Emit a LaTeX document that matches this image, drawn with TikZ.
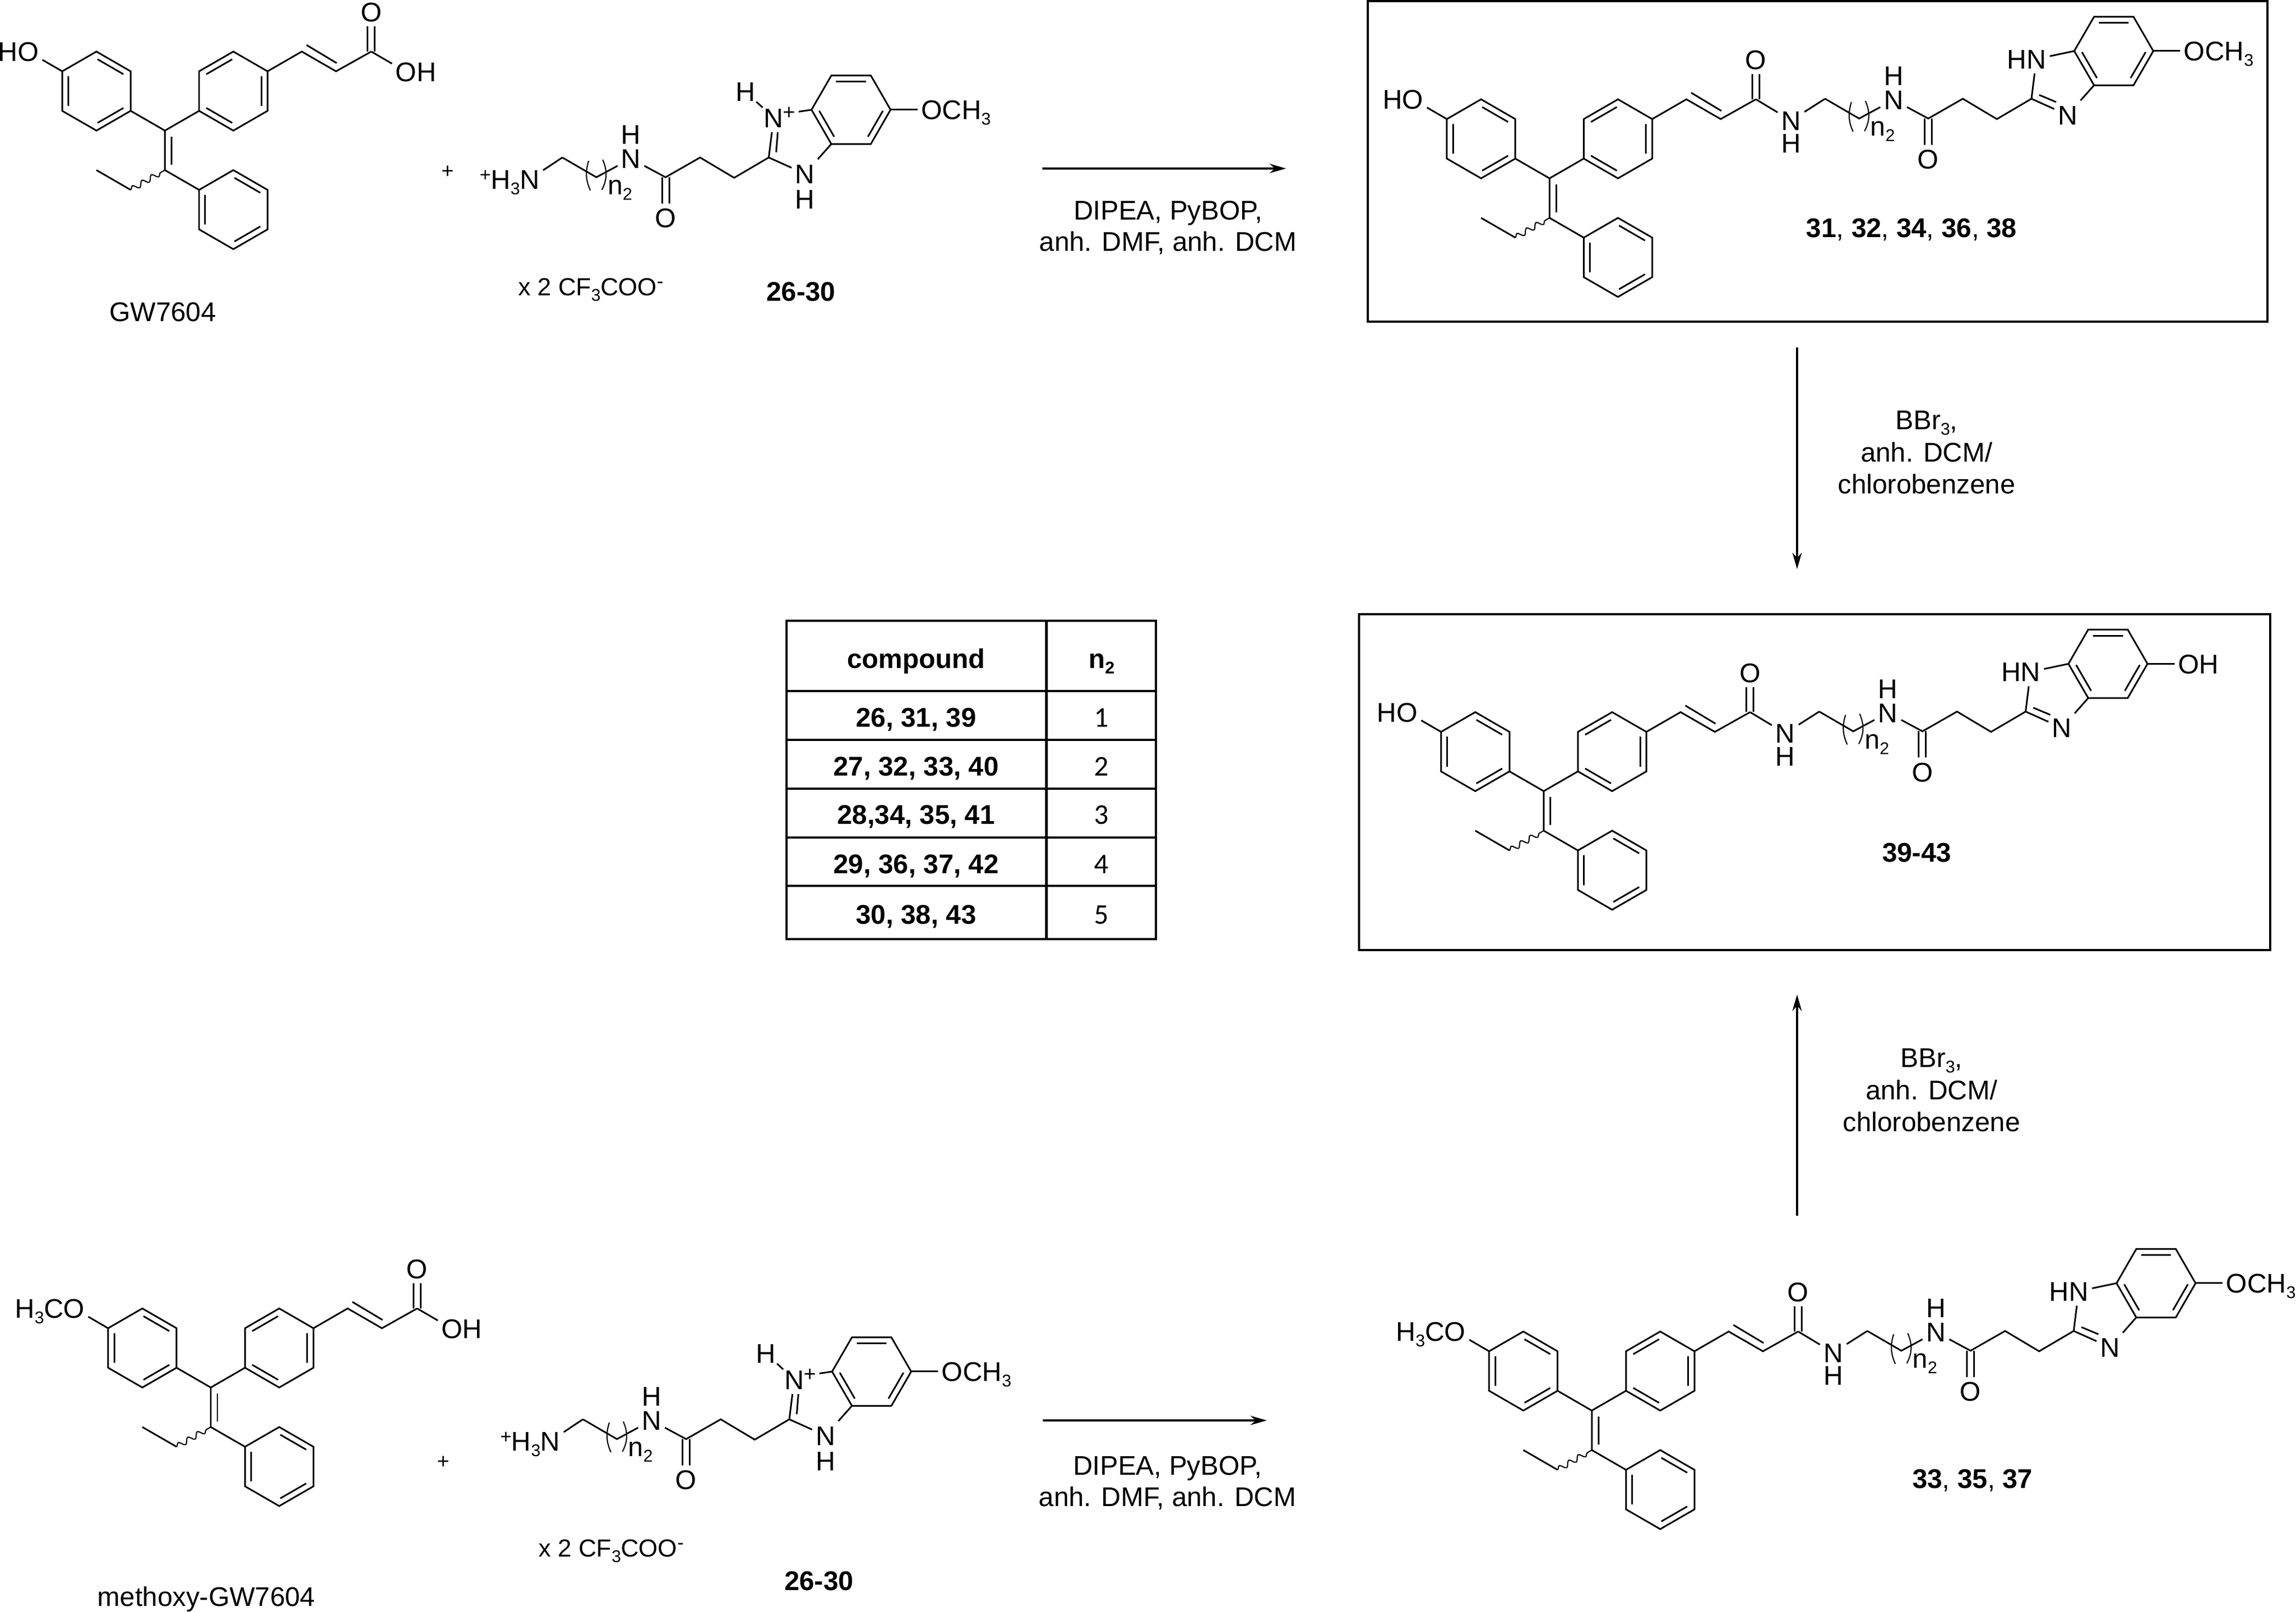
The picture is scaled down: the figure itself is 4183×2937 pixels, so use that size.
\documentclass[tikz,border=0pt]{standalone}
\usepackage{fontspec}
\setmainfont{Liberation Sans}
\newfontfamily\calfont{Carlito}
\usetikzlibrary{calc}
\usetikzlibrary{arrows.meta}
\usetikzlibrary{decorations.pathmorphing}
\newcommand{\subtx}[1]{\raisebox{-0.1cm}{\fontsize{8.8}{10}\selectfont #1}}
\newcommand{\suptx}[1]{\raisebox{0.14cm}{\fontsize{10}{10}\selectfont #1}}
\tikzstyle{bond}=[line width=0.85pt]
\tikzstyle{wavy}=[line width=0.6pt,decorate,decoration={snake,segment length=0.2cm,amplitude=0.05cm}]
\tikzstyle{atom}=[font=\fontsize{14}{17}\selectfont,text height=10pt,text depth=0pt,inner xsep=1.7pt,inner ysep=2.3pt]
\tikzstyle{chg}=[font=\fontsize{11}{12}\selectfont,inner sep=1.5pt]
\tikzstyle{lbl}=[font=\fontsize{14}{17}\selectfont,inner sep=0,anchor=base]
\tikzstyle{tfa}=[font=\fontsize{12.8}{15}\selectfont,inner sep=0,anchor=base west]
\tikzstyle{reag}=[font=\fontsize{14}{16.4}\selectfont,inner sep=0,align=center,anchor=base]
\tikzstyle{reagb}=[font=\fontsize{14}{16.7}\selectfont,inner sep=0,align=center,anchor=base]
\tikzstyle{rxn}=[line width=1pt,-{Stealth[length=0.3cm,width=0.17cm]}]
\tikzstyle{boxline}=[line width=1.15pt]
% ring: centre, turn of the first corner, corners where an inner line starts
\newcommand{\hexring}[3]{
\draw[bond] #1 +(#2:72) -- +(#2+60:72) -- +(#2+120:72) -- +(#2+180:72) -- +(#2+240:72) -- +(#2+300:72) -- cycle;
\foreach \a in {#3} \draw[bond] #1 +(\a-2:58) -- +(\a-58:58);
}
% three rings, alkene, acryl part
\newcommand{\gwcore}[2]{
\coordinate (#1a) at (0,0);
\coordinate (#1b) at (0,-72);
\coordinate (#1et) at (-62.35,-108);
\coordinate (#1me) at (-124.7,-72);
\coordinate (#1co) at (376,144);
\hexring{(-124.7,72)}{30}{90,330,210}
\hexring{(124.7,72)}{30}{150,30,270}
\hexring{(124.7,-144)}{30}{90,330,210}
\node[atom] (#1ph) at (-249,144) {#2};
\node[atom] (#1ox) at (376,216) {O};
\draw[bond] (#1ph) -- (-187,108);
\draw[bond] (-62.35,36) -- (#1a) -- (62.35,36);
\draw[bond] (#1a) -- (#1b) -- (62.35,-108);
\draw[bond] (12,-11) -- (12,-62);
\draw[bond] (#1me) -- (#1et);
\draw[wavy] (#1et) -- (#1b);
\draw[bond] (187,108) -- (249.4,144) -- (311.8,108) -- (#1co);
\draw[bond] (258,156) -- (313,123);
\draw[bond] ($(#1co)+(-6.5,0)$) -- ($(#1ox.south)+(-6.5,0)$);
\draw[bond] ($(#1co)+(6.5,0)$) -- ($(#1ox.south)+(6.5,0)$);
}
% CH2 ... benzimidazole ring
\newcommand{\linker}[2]{
\coordinate (#1c1) at (502,145);
\coordinate (#1c2) at (564,109);
\coordinate (#1cp) at (690,109);
\coordinate (#1c3) at (753,145);
\coordinate (#1c4) at (815,108);
\coordinate (#1c5) at (878,145);
\coordinate (#1c7a) at (956,232);
\coordinate (#1c3a) at (992,169.6);
\coordinate (#1c6) at (1100,232);
\hexring{(1028,232)}{0}{120,240,0}
\node[atom] (#1nh) at (627,143) {N};
\node[atom] (#1nhh) at (627,187) {H};
\node[atom] (#1ob) at (690,35) {O};
\node[atom] (#1or) at (1175,232) {#2};
\node[lbl] (#1rep) at (607,77) {n\subtx{2}};
\draw[bond] (#1c1) -- (#1c2) -- (#1nh);
\draw[bond] (#1nh) -- (#1cp) -- (#1c3) -- (#1c4) -- (#1c5);
\draw[bond] ($(#1cp)+(-6.5,0)$) -- ($(#1ob.north)+(-6.5,0)$);
\draw[bond] ($(#1cp)+(6.5,0)$) -- ($(#1ob.north)+(6.5,0)$);
\draw[line width=0.6pt] (550,139) .. controls (544,120) and (544,105) .. (553,85);
\draw[line width=0.6pt] (575.5,141) .. controls (584,122) and (584,105) .. (574,86);
\draw[bond] (#1c6) -- (#1or);
}
% amide, N-H on the upper side of the imidazole
\newcommand{\prodend}[1]{
\node[atom] (#1na) at (440,105.5) {N};
\node[atom] (#1nah) at (440,64) {H};
\node[atom] (#1n1) at (887,217.5) {\llap{H}N};
\node[atom] (#1n3) at (944,115.4) {N};
\draw[bond] (#1co) -- (#1na) -- (#1c1);
\draw[bond] (#1c5) -- (#1n1) -- (#1c7a);
\draw[bond] (#1c5) -- (#1n3) -- (#1c3a);
\draw[bond] (892,152) -- (923,139);
}
% ammonium end, protonated imidazole
\newcommand{\saltend}[1]{
\node[atom] (#1na) at (442.5,105.5) {\llap{\suptx{+}H\subtx{3}}N};
\node[atom] (#1n1) at (887,217.5) {N};
\node[chg] (#1pl) at (915.5,226) {+};
\node[atom] (#1h1) at (835.5,265) {H};
\node[atom] (#1n3) at (944,115.4) {N};
\node[atom] (#1h3) at (944,69) {H};
\draw[bond] (#1na) -- (#1c1);
\draw[bond] (#1c5) -- (#1n1);
\draw[bond,shorten <=-0.06cm,shorten >=-0.06cm] (#1h1) -- (#1n1);
\draw[bond] (#1pl) -- (#1c7a);
\draw[bond] (#1c5) -- (#1n3) -- (#1c3a);
\draw[bond] (894.5,191) -- (891.5,154.5);
}
\begin{document}
\begin{tikzpicture}[x=0.01cm,y=0.01cm]
\useasboundingbox (0,0) rectangle (4183,2937);
% first row
\begin{scope}[shift={(300.4,2699)}]
\gwcore{A}{\llap{H}O}
\node[atom] (Aoh) at (439.6,107) {O\rlap{H}};
\draw[bond] (Aco) -- (Aoh);
\end{scope}
\node[lbl] (nameA) at (296.5,2351.3) {GW7604};
\node[chg] (plusA) at (816,2623.5) {+};
\begin{scope}[shift={(522.5,2505)}]
\linker{B}{O\rlap{CH\subtx{3}}}
\saltend{B}
\end{scope}
\node[tfa] (tfaB) at (943.8,2398) {x 2 CF\subtx{3}COO\suptx{-}};
\node[lbl] (numB) at (1459.4,2388) {\bfseries 26-30};
\coordinate (ar1s) at (1899,2630);
\coordinate (ar1e) at (2343,2630);
\draw[rxn] (ar1s) -- (ar1e);
\node[reag] (rg1) at (2128,2479) {DIPEA, PyBOP,\\anh. DMF, anh. DCM};
\draw[boxline] (2492,2935) rectangle (4130.5,2351);
\begin{scope}[shift={(2823,2612)}]
\gwcore{C}{\llap{H}O}
\linker{C}{O\rlap{CH\subtx{3}}}
\prodend{C}
\end{scope}
\node[lbl] (numC) at (3482.5,2504) {{\bfseries 31}, {\bfseries 32}, {\bfseries 34}, {\bfseries 36}, {\bfseries 38}};
% down and up
\coordinate (ar2s) at (3274,2304);
\coordinate (ar2e) at (3274,1900);
\draw[rxn] (ar2s) -- (ar2e);
\node[reagb] (rg2) at (3510,2037) {BBr\subtx{3},\\anh. DCM/\\chlorobenzene};
\coordinate (ar3s) at (3274,722);
\coordinate (ar3e) at (3274,1125);
\draw[rxn] (ar3s) -- (ar3e);
\node[reagb] (rg3) at (3519,875) {BBr\subtx{3},\\anh. DCM/\\chlorobenzene};
% table
\draw[boxline] (1433,1226) rectangle (2106,1806.4);
\draw[boxline] (1906.5,1226) -- (1906.5,1806.4);
\foreach \y in {1678,1589.2,1500,1411.3,1323} \draw[boxline] (1433,\y) -- (2106,\y);
\node[lbl] (hdc) at (1669,1719) {\bfseries compound};
\node[lbl] (hdn) at (2007,1719) {\bfseries n\subtx{2}};
\foreach \y/\t/\d in {1612.5/{26, 31, 39}/1,1523.5/{27, 32, 33, 40}/2,1435/{28,34, 35, 41}/3,1345/{29, 36, 37, 42}/4,1253.3/{30, 38, 43}/5}{
\node[lbl] at (1669,\y) {\bfseries\t};
\node[lbl,font=\calfont\fontsize{14.8}{17}\selectfont] at (2007,\y) {\d};
}
% middle product
\draw[boxline] (2476,1206) rectangle (4136,1818.3);
\begin{scope}[shift={(2812.4,1495.5)}]
\gwcore{D}{\llap{H}O}
\linker{D}{O\rlap{H}}
\prodend{D}
\end{scope}
\node[lbl] (numD) at (3492,1366.4) {\bfseries 39-43};
% last row
\begin{scope}[shift={(384,409)}]
\gwcore{E}{\llap{H\subtx{3}C}O}
\node[atom] (Eoh) at (439.6,107) {O\rlap{H}};
\draw[bond] (Eco) -- (Eoh);
\end{scope}
\node[lbl] (nameE) at (376,10) {methoxy-GW7604};
\node[chg] (plusE) at (808,273) {+};
\begin{scope}[shift={(560,206)}]
\linker{F}{O\rlap{CH\subtx{3}}}
\saltend{F}
\end{scope}
\node[tfa] (tfaF) at (981,100) {x 2 CF\subtx{3}COO\suptx{-}};
\node[lbl] (numF) at (1492,39.3) {\bfseries 26-30};
\coordinate (ar4s) at (1899.6,349);
\coordinate (ar4e) at (2308,349);
\draw[rxn] (ar4s) -- (ar4e);
\node[reag] (rg4) at (2127,192) {DIPEA, PyBOP,\\anh. DMF, anh. DCM};
\begin{scope}[shift={(2900,367)}]
\gwcore{G}{\llap{H\subtx{3}C}O}
\linker{G}{O\rlap{CH\subtx{3}}}
\prodend{G}
\end{scope}
\node[lbl] (numG) at (3593.7,225) {{\bfseries 33}, {\bfseries 35}, {\bfseries 37}};
\end{tikzpicture}
\end{document}
